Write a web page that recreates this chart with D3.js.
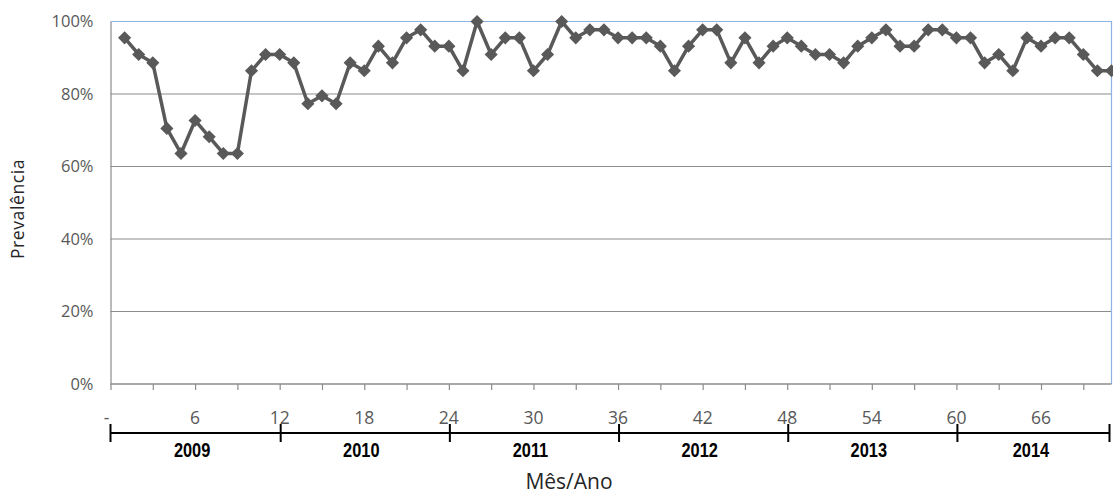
<!DOCTYPE html>
<html>
<head>
<meta charset="utf-8">
<script src="https://cdn.jsdelivr.net/npm/d3@7"></script>
<style>
  html, body { margin: 0; padding: 0; background: #fff; }
  svg { display: block; }
</style>
</head>
<body>
<svg id="chart" width="1113" height="497"></svg>
<script>
// Monthly prevalence (%), months 1..71 (Jan 2009 - Nov 2014)
const months = d3.range(1, 72);
const prevalence = [
  95.5, 90.9, 88.6, 70.5, 63.6, 72.7, 68.2, 63.6, 63.6, 86.4, 90.9, 90.9,
  88.6, 77.3, 79.5, 77.3, 88.6, 86.4, 93.2, 88.6, 95.5, 97.7, 93.2, 93.2,
  86.4, 100, 90.9, 95.5, 95.5, 86.4, 90.9, 100, 95.5, 97.7, 97.7, 95.5,
  95.5, 95.5, 93.2, 86.4, 93.2, 97.7, 97.7, 88.6, 95.5, 88.6, 93.2, 95.5,
  93.2, 90.9, 90.9, 88.6, 93.2, 95.5, 97.7, 93.2, 93.2, 97.7, 97.7, 95.5,
  95.5, 88.6, 90.9, 86.4, 95.5, 93.2, 95.5, 95.5, 90.9, 86.4, 86.4
];
const monthTicks = [0, 6, 12, 18, 24, 30, 36, 42, 48, 54, 60, 66];
const monthTickLabels = ["-", "6", "12", "18", "24", "30", "36", "42", "48", "54", "60", "66"];
const yTicks = [0, 20, 40, 60, 80, 100];
const years = ["2009", "2010", "2011", "2012", "2013", "2014"];
const yearBounds = [0, 12, 24, 36, 48, 60, 71];

const svg = d3.select("#chart");
const plotLeft = 110.5, plotRight = 1111.5, plotTop = 21.5, plotBottom = 384;

const x = d3.scaleLinear().domain([0, 71]).range([plotLeft, plotRight]);
const y = d3.scaleLinear().domain([0, 100]).range([plotBottom, plotTop]);

const labelFont = "'Open Sans', 'DejaVu Sans', sans-serif";
const textGrey = "#595959";

// horizontal gridlines
svg.append("g")
  .selectAll("line")
  .data(yTicks.filter(d => d > 0 && d < 100))
  .join("line")
  .attr("x1", plotLeft).attr("x2", plotRight)
  .attr("y1", d => y(d)).attr("y2", d => y(d))
  .attr("stroke", "#8c8c8c").attr("stroke-width", 1.2);

// plot-area border (top and right)
svg.append("path")
  .attr("d", `M${plotLeft},${y(100)}H${plotRight}V${plotBottom}`)
  .attr("fill", "none").attr("stroke", "#8db3e2").attr("stroke-width", 1.2);

// y axis
const yAxis = d3.axisLeft(y).tickValues(yTicks).tickSize(0).tickPadding(17)
  .tickFormat(d => d + "%");
const gy = svg.append("g").attr("transform", `translate(${plotLeft},0)`).call(yAxis);
gy.select(".domain").attr("stroke", "#8c8c8c").attr("stroke-width", 1.2);
gy.selectAll("text").attr("font-family", labelFont).attr("font-size", 16.5)
  .attr("fill", textGrey);

// x axis: ticks every 3 months
const xAxis = d3.axisBottom(x).tickValues(d3.range(0, 70, 3)).tickSize(6)
  .tickSizeOuter(0).tickFormat("");
const gx = svg.append("g").attr("transform", `translate(0,${plotBottom})`).call(xAxis);
gx.select(".domain").attr("stroke", "#8c8c8c").attr("stroke-width", 1.4)
  .attr("d", `M${plotLeft},0H${plotRight}`);
gx.selectAll(".tick line").attr("stroke", "#8c8c8c").attr("stroke-width", 1.2);

// month labels
svg.append("g")
  .selectAll("text")
  .data(monthTicks)
  .join("text")
  .attr("x", (d, i) => i === 0 ? x(d) - 4 : x(d))
  .attr("y", 424)
  .attr("text-anchor", "middle")
  .attr("font-family", labelFont).attr("font-size", 17.5)
  .attr("fill", textGrey)
  .text((d, i) => monthTickLabels[i]);

// year bracket axis
const gYear = svg.append("g");
gYear.append("line")
  .attr("x1", x(0)).attr("x2", x(71) - 2)
  .attr("y1", 433).attr("y2", 433)
  .attr("stroke", "#000").attr("stroke-width", 2);
gYear.selectAll("line.sep")
  .data(yearBounds)
  .join("line").attr("class", "sep")
  .attr("x1", d => d === 71 ? x(d) - 2 : x(d) + (d > 0 ? 1 : 0))
  .attr("x2", d => d === 71 ? x(d) - 2 : x(d) + (d > 0 ? 1 : 0))
  .attr("y1", 424).attr("y2", 442)
  .attr("stroke", "#000").attr("stroke-width", 2);
gYear.selectAll("text")
  .data(years)
  .join("text")
  .attr("transform", (d, i) =>
    `translate(${(x(yearBounds[i]) + x(yearBounds[i + 1])) / 2 - 3},456.5) scale(0.82,1)`)
  .attr("text-anchor", "middle")
  .attr("font-family", "'Liberation Sans', Arial, sans-serif")
  .attr("font-weight", "bold").attr("font-size", 20)
  .attr("fill", "#000")
  .text(d => d);

// axis titles
svg.append("text")
  .attr("x", 569).attr("y", 489)
  .attr("text-anchor", "middle")
  .attr("font-family", labelFont).attr("font-size", 21)
  .attr("fill", "#262626")
  .text("Mês/Ano");

svg.append("text")
  .attr("transform", "translate(24,209) rotate(-90)")
  .attr("text-anchor", "middle")
  .attr("font-family", labelFont).attr("font-size", 17.5)
  .attr("letter-spacing", 0.6)
  .attr("fill", "#262626")
  .text("Prevalência");

// series line
const data = months.map((m, i) => ({ m, v: prevalence[i] }));
svg.append("path")
  .datum(data)
  .attr("fill", "none")
  .attr("stroke", "#595959")
  .attr("stroke-width", 3.5)
  .attr("stroke-linejoin", "round")
  .attr("d", d3.line().x(d => x(d.m)).y(d => y(d.v)));

// diamond markers
const diamond = d3.symbol().type(d3.symbolDiamond2).size(110);
svg.append("g")
  .selectAll("path")
  .data(data)
  .join("path")
  .attr("transform", d => `translate(${x(d.m)},${y(d.v)})`)
  .attr("d", diamond)
  .attr("fill", "#595959");
</script>
</body>
</html>
